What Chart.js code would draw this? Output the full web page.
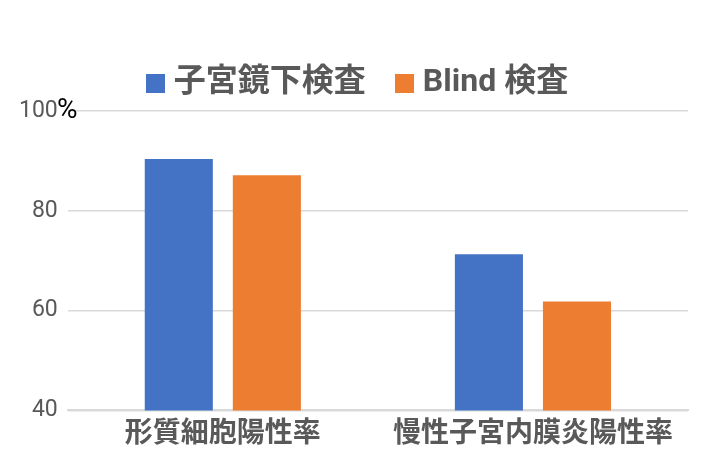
<!DOCTYPE html>
<html><head><meta charset="utf-8">
<script src="https://cdn.jsdelivr.net/npm/chart.js@4"></script>
<style>html,body{margin:0;padding:0;background:#fff;}#wrap{width:720px;height:470px;}</style>
</head><body><div id="wrap"><canvas id="c" width="720" height="470"></canvas></div>
<script>
const categories = ['形質細胞陽性率', '慢性子宮内膜炎陽性率'];
const seriesNames = ['子宮鏡下検査', 'Blind 検査'];
const hysteroscopy = [90.4, 71.3];
const blind = [87.1, 61.8];
const yTicks = [40, 60, 80, 100];
const colors = ['#4472C4', '#ED7D31'];
const FONT = "Roboto, 'Noto Sans CJK JP', sans-serif";

function squareIcon(color) {
  const c = document.createElement('canvas');
  c.width = 19; c.height = 19;
  const g = c.getContext('2d');
  g.fillStyle = color;
  g.fillRect(0, 0, 19, 19);
  return c;
}
const icons = colors.map(squareIcon);

const LEGEND_DX = 12;
const LEGEND_DY = -2;
const legendShift = {
  id: 'legendShift',
  beforeDraw(chart) {
    const lg = chart.legend;
    if (!lg) return;
    lg.left += LEGEND_DX; lg.right += LEGEND_DX;
    lg.top += LEGEND_DY; lg.bottom += LEGEND_DY;
  },
  afterDraw(chart) {
    const lg = chart.legend;
    if (!lg) return;
    lg.left -= LEGEND_DX; lg.right -= LEGEND_DX;
    lg.top -= LEGEND_DY; lg.bottom -= LEGEND_DY;
  }
};

const pctPlugin = {
  id: 'pct',
  afterDraw(chart) {
    const y = chart.scales.y;
    const ctx = chart.ctx;
    ctx.save();
    ctx.font = "28px " + FONT;
    ctx.fillStyle = '#000';
    ctx.textAlign = 'left';
    ctx.textBaseline = 'middle';
    ctx.fillText('%', 57, y.getPixelForValue(100));
    ctx.restore();
  }
};

new Chart(document.getElementById('c'), {
  type: 'bar',
  data: {
    labels: categories,
    datasets: [
      { label: seriesNames[0], data: hysteroscopy, backgroundColor: colors[0], barPercentage: 0.773, categoryPercentage: 0.568 },
      { label: seriesNames[1], data: blind, backgroundColor: colors[1], barPercentage: 0.773, categoryPercentage: 0.568 }
    ]
  },
  options: {
    responsive: false,
    animation: false,
    layout: { padding: { left: 9, right: 32, top: 33, bottom: 18 } },
    plugins: {
      legend: {
        position: 'top',
        labels: {
          usePointStyle: true,
          pointStyleWidth: 5,
          boxWidth: 5, boxHeight: 19, padding: 36,
          color: '#595959',
          font: { family: FONT, size: 32, weight: 'bold' },
          generateLabels(chart) {
            const items = Chart.defaults.plugins.legend.labels.generateLabels(chart);
            items.forEach((it, i) => { it.pointStyle = icons[i]; });
            return items;
          }
        }
      },
      tooltip: { enabled: false }
    },
    scales: {
      x: {
        grid: { display: false },
        border: { color: '#D9D9D9', width: 2 },
        ticks: { color: '#595959', font: { family: FONT, size: 28, weight: 'bold' }, padding: 0 }
      },
      y: {
        min: 40, max: 100,
        afterBuildTicks(axis) { axis.ticks = yTicks.map(v => ({ value: v })); },
        grid: { color: '#D9D9D9', lineWidth: 1.5, drawTicks: false },
        border: { display: false },
        ticks: { color: '#595959', font: { family: FONT, size: 23 }, padding: 10 }
      }
    }
  },
  plugins: [legendShift, pctPlugin]
});
</script></body></html>
